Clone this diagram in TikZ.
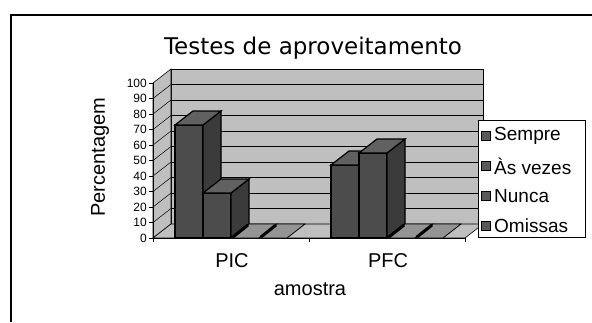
\documentclass[tikz,border=0pt]{standalone}
\usepackage{fontspec}
\setmainfont{Liberation Sans}
\newfontfamily\titlefont{DejaVu Sans}

\begin{document}
\begin{tikzpicture}[x=1pt, y=-1pt,
    wall/.style={fill=black!25, draw=black, line width=0.6pt},
    grid/.style={draw=black, line width=0.5pt},
    barfront/.style={fill=black!70, draw=black, line width=1.2pt},
    barside/.style={fill=black!77, draw=black, line width=1.2pt},
    bartop/.style={fill=black!62, draw=black, line width=1.2pt},
    slab/.style={fill=black!42, draw=black, line width=0.8pt},
    ticklabel/.style={font=\fontsize{12}{12}\selectfont, anchor=east, inner sep=0pt},
    axistext/.style={font=\fontsize{20}{24}\selectfont, inner sep=0pt},
    legendtext/.style={font=\fontsize{19}{22}\selectfont, anchor=west, inner sep=0pt},
    legendmark/.style={fill=black!65, draw=black, line width=0.8pt}]
  \useasboundingbox (0,0) rectangle (592,322);

  % frame
  \draw[line width=1.6pt] (11,322) -- (11,15) -- (592,15);
  \node[font=\titlefont\fontsize{23}{26}\selectfont, inner sep=0pt] (titulo) at (313,48) {Testes de aproveitamento};

  % walls and floor
  \draw[wall] (171,69) rectangle (483,224);
  \draw[wall] (153,83) -- (171,69) -- (171,224) -- (153,238) -- cycle;
  \draw[wall] (153,238) -- (171,224) -- (483,224) -- (465,238) -- cycle;
  \draw[grid] (171,208.5) -- (483,208.5) (171,193) -- (483,193) (171,177.5) -- (483,177.5)
    (171,162) -- (483,162) (171,146.5) -- (483,146.5) (171,131) -- (483,131)
    (171,115.5) -- (483,115.5) (171,100) -- (483,100) (171,84.5) -- (483,84.5);
  \draw[grid] (153,222.5) -- (171,208.5) (153,207) -- (171,193) (153,191.5) -- (171,177.5)
    (153,176) -- (171,162) (153,160.5) -- (171,146.5) (153,145) -- (171,131)
    (153,129.5) -- (171,115.5) (153,114) -- (171,100) (153,98.5) -- (171,84.5);

  % value axis
  \draw[line width=0.8pt] (153,83) -- (153,238);
  \draw[line width=0.6pt] (149,238) -- (153,238) (149,222.5) -- (153,222.5) (149,207) -- (153,207)
    (149,191.5) -- (153,191.5) (149,176) -- (153,176) (149,160.5) -- (153,160.5)
    (149,145) -- (153,145) (149,129.5) -- (153,129.5) (149,114) -- (153,114)
    (149,98.5) -- (153,98.5) (149,83) -- (153,83);
  \node[ticklabel] (v0) at (147,238) {0};
  \node[ticklabel] (v10) at (147,222.5) {10};
  \node[ticklabel] (v20) at (147,207) {20};
  \node[ticklabel] (v30) at (147,191.5) {30};
  \node[ticklabel] (v40) at (147,176) {40};
  \node[ticklabel] (v50) at (147,160.5) {50};
  \node[ticklabel] (v60) at (147,145) {60};
  \node[ticklabel] (v70) at (147,129.5) {70};
  \node[ticklabel] (v80) at (147,114) {80};
  \node[ticklabel] (v90) at (147,98.5) {90};
  \node[ticklabel] (v100) at (147,83) {100};
  \node[axistext, rotate=90] (percent) at (100,157) {Percentagem};

  % category axis
  \draw[line width=0.8pt] (153,238) -- (465,238);
  \draw[line width=0.6pt] (153,238) -- (153,242) (309,238) -- (309,242) (465,238) -- (465,242);

  % PIC
  \draw[barfront] (175,125) rectangle (203,238);
  \draw[barside] (203,125) -- (221,111) -- (221,224) -- (203,238) -- cycle;
  \draw[bartop] (175,125) -- (193,111) -- (221,111) -- (203,125) -- cycle;
  \draw[barfront] (203,193) rectangle (231,238);
  \draw[barside] (231,193) -- (249,179) -- (249,224) -- (231,238) -- cycle;
  \draw[bartop] (203,193) -- (221,179) -- (249,179) -- (231,193) -- cycle;
  \draw[slab] (231,238) -- (249,224) -- (277,224) -- (259,238) -- cycle;
  \draw[line width=3pt] (233,237) -- (248,225);
  \draw[slab] (259,238) -- (277,224) -- (305,224) -- (287,238) -- cycle;
  \draw[line width=3pt] (261,237) -- (276,225);

  % PFC
  \draw[barfront] (331,165) rectangle (359,238);
  \draw[barside] (359,165) -- (377,151) -- (377,224) -- (359,238) -- cycle;
  \draw[bartop] (331,165) -- (349,151) -- (377,151) -- (359,165) -- cycle;
  \draw[barfront] (359,153) rectangle (387,238);
  \draw[barside] (387,153) -- (405,139) -- (405,224) -- (387,238) -- cycle;
  \draw[bartop] (359,153) -- (377,139) -- (405,139) -- (387,153) -- cycle;
  \draw[slab] (387,238) -- (405,224) -- (433,224) -- (415,238) -- cycle;
  \draw[line width=3pt] (389,237) -- (404,225);
  \draw[slab] (415,238) -- (433,224) -- (461,224) -- (443,238) -- cycle;
  \draw[line width=3pt] (417,237) -- (432,225);

  \node[axistext] (pic) at (232,261) {PIC};
  \node[axistext] (pfc) at (388,261) {PFC};
  \node[axistext] (amostra) at (310,289) {amostra};

  % legend
  \draw[fill=white, line width=0.8pt] (478,120) rectangle (585,237);
  \draw[legendmark] (481,131) rectangle (490,140);
  \node[legendtext] (sempre) at (494,136) {Sempre};
  \draw[legendmark] (481,161) rectangle (490,170);
  \node[legendtext] (asvezes) at (494,166) {Às vezes};
  \draw[legendmark] (481,191) rectangle (490,200);
  \node[legendtext] (nunca) at (494,196) {Nunca};
  \draw[legendmark] (481,221) rectangle (490,230);
  \node[legendtext] (omissas) at (494,226) {Omissas};
\end{tikzpicture}
\end{document}
